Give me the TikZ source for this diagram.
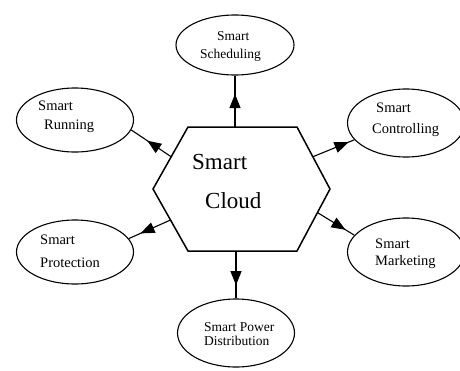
\documentclass[tikz,border=0pt]{standalone}
\usepackage{fontspec}
\setmainfont{Liberation Serif}
\usetikzlibrary{shapes.geometric,arrows.meta,decorations.markings,calc}
\tikzset{
  ell/.style={draw,ellipse,line width=1.1pt,inner sep=0pt,minimum width=117pt,minimum height=64pt},
  lbl/.style={anchor=base west,inner sep=0pt,font=\fontsize{14.5}{16}\selectfont},
  lbls/.style={anchor=base west,inner sep=0pt,font=\fontsize{13.5}{15}\selectfont},
  big/.style={anchor=base west,inner sep=0pt,font=\fontsize{23}{26}\selectfont},
  hex/.style={line width=1.5pt,line join=miter},
  arr/.style={line width=1.1pt,decoration={markings,mark=at position #1 with {\arrow{Triangle[length=14pt,width=11pt]}}},postaction={decorate}}
}
\begin{document}
\begin{tikzpicture}[x=1pt,y=-1pt]
\useasboundingbox (0,0) rectangle (460,370);
% hexagon
\coordinate (hTL) at (188,127);
\coordinate (hTR) at (297,127);
\coordinate (hR) at (330,189);
\coordinate (hBR) at (297,251);
\coordinate (hBL) at (188,251);
\coordinate (hL) at (153,189);
\draw[hex] (hTL) -- (hTR) -- (hR) -- (hBR) -- (hBL) -- (hL) -- cycle;
\node[big] (t1) at (192,169) {Smart};
\node[big] (t2) at (205,208) {Cloud};
% ellipses
\node[ell,minimum width=118pt,minimum height=60pt] (sched) at (235,45) {};
\node[ell] (run) at (75,120) {};
\node[ell,minimum height=68pt] (ctrl) at (406,123) {};
\node[ell] (prot) at (75,252) {};
\node[ell,minimum height=68pt] (mkt) at (406,252) {};
\node[ell,minimum height=68pt] (dist) at (236,333) {};
% labels
\node[lbls] (l1a) at (217,40) {Smart};
\node[lbls] (l1b) at (200,58) {Scheduling};
\node[lbl] (l2a) at (38,110) {Smart};
\node[lbl] (l2b) at (44,129) {Running};
\node[lbl] (l3a) at (376,112) {Smart};
\node[lbl] (l3b) at (372,133) {Controlling};
\node[lbl] (l4a) at (40,244) {Smart};
\node[lbl] (l4b) at (40,267) {Protection};
\node[lbl] (l5a) at (375,248) {Smart};
\node[lbl] (l5b) at (375,265) {Marketing};
\node[lbls] (l6a) at (204,331) {Smart Power};
\node[lbls] (l6b) at (204,345) {Distribution};
% connectors
\coordinate (cT) at (235,127);
\coordinate (cB) at (236,251);
\coordinate (cRun) at ($(hTL)!0.48!(hL)$);
\coordinate (cCtrl) at ($(hTR)!0.48!(hR)$);
\coordinate (cProt) at ($(hL)!0.5!(hBL)$);
\coordinate (cMkt) at ($(hR)!0.38!(hBR)$);
\draw[arr=0.64] (cT) -- (sched);
\draw[arr=0.6] (cRun) -- (run.350);
\draw[arr=0.86] (cCtrl) -- (ctrl.198);
\draw[arr=0.72] (cProt) -- (prot.14);
\draw[arr=0.76] (cMkt) -- (mkt.162);
\draw[arr=0.72] (cB) -- (dist);
\end{tikzpicture}
\end{document}
